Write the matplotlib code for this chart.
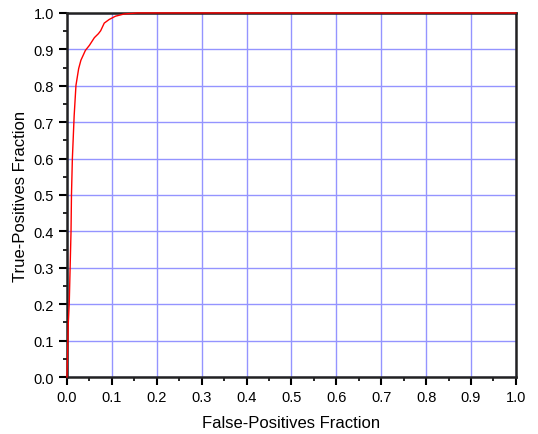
import matplotlib
matplotlib.use("Agg")
import matplotlib.pyplot as plt
from matplotlib.ticker import MultipleLocator

# ROC curve
fpr = [0.0, 0.001, 0.003, 0.005, 0.006, 0.007, 0.009, 0.010, 0.012, 0.016,
       0.020, 0.026, 0.031, 0.041, 0.050, 0.061, 0.070, 0.075, 0.083, 0.094,
       0.108, 0.127, 0.157, 1.0]
tpr = [0.0, 0.05, 0.15, 0.20, 0.25, 0.30, 0.40, 0.50, 0.60, 0.718,
       0.801, 0.847, 0.870, 0.897, 0.911, 0.932, 0.943, 0.951, 0.972, 0.982,
       0.991, 0.997, 1.0, 1.0]

plt.rcParams["font.family"] = ["Liberation Sans", "DejaVu Sans"]

fig = plt.figure(figsize=(5.38, 4.35), dpi=100)
ax = fig.add_axes([0.1245, 0.131, 0.8345, 0.837])

ax.plot(fpr, tpr, color="#ff0000", linewidth=1.0, zorder=5, clip_on=False)

ax.set_xlim(0, 1)
ax.set_ylim(0, 1)
ax.xaxis.set_major_locator(MultipleLocator(0.1))
ax.yaxis.set_major_locator(MultipleLocator(0.1))
ax.xaxis.set_minor_locator(MultipleLocator(0.05))
ax.yaxis.set_minor_locator(MultipleLocator(0.05))
ax.xaxis.set_major_formatter(lambda v, p: f"{v:.1f}")
ax.yaxis.set_major_formatter(lambda v, p: f"{v:.1f}")

ax.grid(True, which="major", color="#9494ff", linewidth=1.0)
ax.set_axisbelow(True)

ax.tick_params(which="major", direction="out", length=6, width=1.5,
               labelsize=10.5, top=False, right=False)
ax.tick_params(which="minor", direction="out", length=3, width=1.2,
               top=False, right=False)

for side in ["left", "bottom", "right", "top"]:
    ax.spines[side].set_linewidth(1.8)
    ax.spines[side].set_color("#222222")

ax.set_xlabel("False-Positives Fraction", fontsize=12, labelpad=8)
ax.set_ylabel("True-Positives Fraction", fontsize=12, labelpad=4)

fig.savefig("out.png", dpi=100)
